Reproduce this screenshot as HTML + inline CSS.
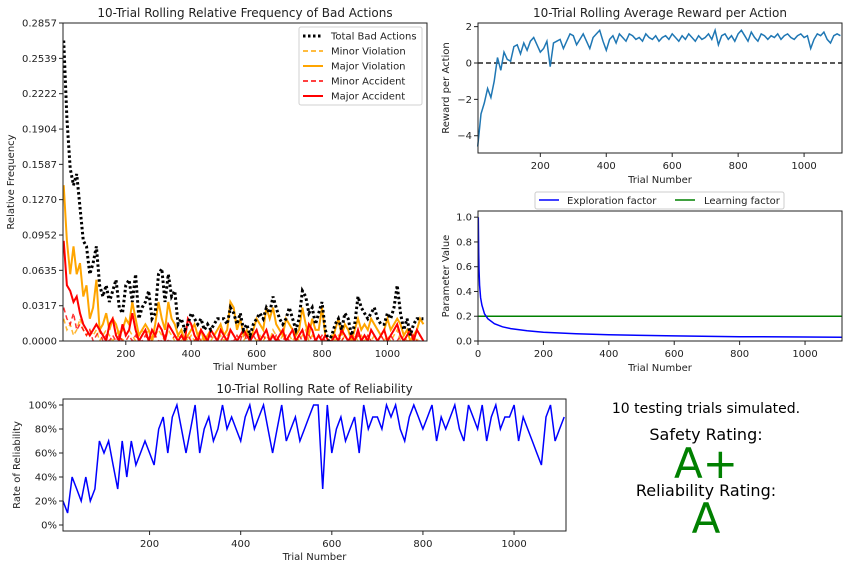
<!DOCTYPE html>
<html><head><meta charset="utf-8"><style>
body{margin:0;background:#fff;}
svg{display:block;font-family:"DejaVu Sans","Liberation Sans",sans-serif;}
</style></head><body>
<svg id="c" width="856" height="568"></svg>
<script>
const trials=[];for(let t=10;t<=1110;t+=10)trials.push(t);
const totalBad=[0.27,0.20,0.155,0.14,0.15,0.12,0.09,0.085,0.06,0.07,0.085,0.05,0.04,0.05,0.035,0.045,0.055,0.03,0.025,0.05,0.055,0.035,0.06,0.02,0.03,0.035,0.045,0.02,0.025,0.06,0.065,0.035,0.06,0.04,0.045,0.015,0.02,0.01,0.015,0.025,0.02,0.015,0.02,0.01,0.015,0.01,0.015,0.02,0.02,0.02,0.015,0.03,0.025,0.015,0.025,0.01,0.015,0.005,0.015,0.02,0.025,0.02,0.03,0.025,0.04,0.03,0.02,0.015,0.02,0.03,0.02,0.01,0.02,0.045,0.04,0.025,0.03,0.015,0.025,0.035,0.01,0.0,0.005,0.015,0.02,0.01,0.025,0.02,0.005,0.015,0.04,0.03,0.025,0.02,0.025,0.03,0.02,0.015,0.015,0.025,0.02,0.03,0.05,0.025,0.01,0.02,0.005,0.015,0.02,0.02,0.02];
const majorViol=[0.14,0.09,0.06,0.085,0.06,0.07,0.04,0.05,0.02,0.03,0.055,0.01,0.015,0.025,0.01,0.02,0.015,0.005,0.01,0.02,0.015,0.035,0.02,0.005,0.01,0.015,0.01,0.0,0.015,0.035,0.02,0.01,0.035,0.02,0.015,0.005,0.01,0.0,0.005,0.01,0.015,0.005,0.01,0.0,0.005,0.01,0.005,0.01,0.015,0.005,0.01,0.035,0.03,0.01,0.02,0.005,0.01,0.0,0.01,0.02,0.015,0.01,0.03,0.02,0.03,0.015,0.01,0.005,0.02,0.015,0.01,0.005,0.01,0.03,0.015,0.005,0.02,0.01,0.01,0.03,0.005,0.0,0.0,0.01,0.02,0.005,0.015,0.01,0.0,0.01,0.02,0.01,0.015,0.01,0.02,0.015,0.01,0.005,0.01,0.02,0.01,0.015,0.02,0.015,0.005,0.01,0.0,0.005,0.01,0.02,0.015];
const majorAcc=[0.09,0.05,0.045,0.035,0.04,0.025,0.015,0.01,0.005,0.01,0.015,0.01,0.005,0.0,0.015,0.02,0.005,0.0,0.015,0.005,0.01,0.025,0.01,0.0,0.005,0.01,0.0,0.01,0.005,0.015,0.01,0.0,0.015,0.01,0.005,0.0,0.005,0.0,0.02,0.015,0.005,0.0,0.01,0.005,0.0,0.01,0.005,0.0,0.01,0.005,0.0,0.01,0.005,0.0,0.005,0.01,0.005,0.0,0.005,0.01,0.0,0.005,0.01,0.0,0.005,0.0,0.005,0.01,0.0,0.005,0.01,0.0,0.005,0.01,0.0,0.015,0.01,0.0,0.005,0.0,0.005,0.0,0.0,0.005,0.0,0.01,0.005,0.0,0.005,0.0,0.01,0.0,0.005,0.0,0.01,0.005,0.0,0.005,0.01,0.0,0.005,0.01,0.015,0.005,0.0,0.005,0.01,0.0,0.01,0.005,0.0];
const minorViol=[0.02,0.01,0.015,0.005,0.01,0.02,0.01,0.005,0.01,0.005,0.01,0.0,0.005,0.01,0.005,0.0,0.005,0.01,0.0,0.005,0.01,0.005,0.0,0.005,0.01,0.005,0.01,0.0,0.005,0.01,0.005,0.0,0.01,0.005,0.0,0.005,0.0,0.005,0.0,0.005,0.0,0.005,0.0,0.005,0.0,0.0,0.005,0.0,0.005,0.0,0.005,0.01,0.005,0.0,0.005,0.0,0.005,0.0,0.005,0.0,0.005,0.0,0.005,0.0,0.01,0.005,0.0,0.005,0.0,0.005,0.0,0.005,0.0,0.005,0.01,0.0,0.005,0.0,0.005,0.0,0.0,0.0,0.005,0.0,0.005,0.0,0.005,0.0,0.0,0.005,0.0,0.005,0.0,0.005,0.0,0.005,0.0,0.005,0.0,0.005,0.0,0.005,0.01,0.0,0.005,0.0,0.0,0.005,0.0,0.005,0.0];
const minorAcc=[0.03,0.02,0.015,0.025,0.01,0.015,0.01,0.005,0.01,0.0,0.005,0.01,0.0,0.005,0.0,0.005,0.0,0.005,0.0,0.0,0.005,0.0,0.005,0.0,0.0,0.005,0.0,0.0,0.005,0.0,0.0,0.005,0.0,0.0,0.005,0.0,0.0,0.0,0.005,0.0,0.0,0.005,0.0,0.0,0.0,0.005,0.0,0.0,0.0,0.005,0.0,0.0,0.0,0.005,0.0,0.01,0.0,0.0,0.005,0.0,0.0,0.005,0.0,0.0,0.0,0.005,0.0,0.0,0.005,0.0,0.0,0.0,0.005,0.0,0.0,0.005,0.0,0.0,0.0,0.005,0.0,0.0,0.0,0.005,0.0,0.0,0.005,0.0,0.0,0.0,0.005,0.0,0.0,0.005,0.0,0.0,0.0,0.005,0.0,0.0,0.005,0.0,0.0,0.005,0.0,0.0,0.0,0.005,0.0,0.0,0.0];
const reward=[-4.6,-2.8,-2.2,-1.4,-1.9,-1.0,0.3,-0.4,0.6,0.2,0.1,0.9,1.0,0.5,1.1,0.7,1.2,1.4,1.0,0.6,0.8,1.2,-0.2,1.1,1.2,1.3,0.8,1.2,1.6,1.5,1.0,1.3,1.6,1.2,0.8,1.4,1.6,1.8,1.2,0.7,1.3,1.5,1.1,1.6,1.4,1.2,1.6,1.5,1.3,1.4,1.2,1.6,1.4,1.3,1.5,1.2,1.4,1.5,1.3,1.6,1.4,1.2,1.5,1.3,1.6,1.4,1.2,1.5,1.3,1.4,1.6,1.3,1.8,1.0,1.5,1.6,1.3,1.5,1.2,1.6,1.8,1.5,1.2,1.7,1.4,1.2,1.6,1.5,1.3,1.5,1.4,1.6,1.3,1.5,1.6,1.4,1.3,1.5,1.6,1.4,1.5,0.8,1.3,1.6,1.5,1.7,1.3,1.1,1.5,1.6,1.5];
const reliability=[20,10,40,30,20,40,20,30,70,60,70,50,30,70,40,70,50,60,70,60,50,80,90,60,90,100,80,60,80,100,60,80,90,70,80,100,80,90,80,70,90,100,80,90,100,80,60,80,100,70,80,90,70,80,90,100,100,30,100,60,80,90,70,80,90,60,100,80,90,90,80,100,90,100,80,70,90,100,90,80,90,100,70,90,80,90,100,80,70,100,90,80,100,70,90,100,80,90,90,100,70,90,80,70,60,50,90,100,70,80,90];
const paramTrials=[1,2,3,5,8,12,20,30,50,75,100,150,200,300,400,600,800,1000,1113];
const exploration=[1.0,0.71,0.58,0.45,0.35,0.29,0.22,0.18,0.14,0.115,0.1,0.082,0.071,0.058,0.05,0.041,0.035,0.032,0.03];
const learning=[0.2,0.2];
const learningTrials=[0,1113];
const badTicks=[0,0.0317,0.0635,0.0952,0.1270,0.1587,0.1904,0.2222,0.2539,0.2857];
const rewardTicks=[-4,-2,0,2];
const paramTicks=[0,0.2,0.4,0.6,0.8,1.0];
const relTicks=[0,20,40,60,80,100];
const xTicks=[200,400,600,800,1000];
const paramXTicks=[0,200,400,600,800,1000];

const svg=document.getElementById('c');
const NS='http://www.w3.org/2000/svg';
function el(tag,attrs,parent){const e=document.createElementNS(NS,tag);for(const k in attrs)e.setAttribute(k,attrs[k]);(parent||svg).appendChild(e);return e;}
function txt(s,x,y,size,anchor,parent,extra){const t=el('text',Object.assign({x:x,y:y,'font-size':size,'text-anchor':anchor||'middle',fill:'#222'},extra||{}),parent);t.textContent=s;return t;}
function lin(d0,d1,r0,r1){return v=>r0+(v-d0)/(d1-d0)*(r1-r0);}
function axesFrame(g,L,T,R,B){el('rect',{x:L,y:T,width:R-L,height:B-T,fill:'none',stroke:'#222','stroke-width':1},g);}
function xAxis(g,ticks,sx,B,fmt){ticks.forEach(v=>{const x=sx(v);el('line',{x1:x,y1:B,x2:x,y2:B+4,stroke:'#222'},g);txt(fmt?fmt(v):String(v),x,B+16,10,'middle',g);});}
function yAxis(g,ticks,sy,L,fmt){ticks.forEach(v=>{const y=sy(v);el('line',{x1:L-4,y1:y,x2:L,y2:y,stroke:'#222'},g);txt(fmt?fmt(v):String(v),L-6,y+3.5,10,'end',g);});}
function path(g,xs,ys,sx,sy,attrs,name){const d=xs.map((t,i)=>(i?'L':'M')+sx(t).toFixed(1)+','+sy(ys[i]).toFixed(1)).join('');const p=el('path',Object.assign({d:d,fill:'none'},attrs),g);return p;}

// Chart 1: bad actions
{const g=el('g',{});
const L=63,T=23,R=427,B=341;const sx=lin(8,1121,L,R),sy=lin(0,0.2857,B,T);
const clip=el('clipPath',{id:'c1'},g);el('rect',{x:L,y:T,width:R-L,height:B-T},clip);
const pg=el('g',{'clip-path':'url(#c1)'},g);
path(pg,trials,minorViol,sx,sy,{stroke:'#ffa500','stroke-width':1.5,'stroke-dasharray':'5,3',opacity:0.8},'minor-violation-line');
path(pg,trials,majorViol,sx,sy,{stroke:'#ffa500','stroke-width':2},'major-violation-line');
path(pg,trials,minorAcc,sx,sy,{stroke:'#ff0000','stroke-width':1.5,'stroke-dasharray':'5,3',opacity:0.8},'minor-accident-line');
path(pg,trials,majorAcc,sx,sy,{stroke:'#ff0000','stroke-width':2},'major-accident-line');
path(pg,trials,totalBad,sx,sy,{stroke:'#000','stroke-width':3,'stroke-dasharray':'2.5,2.5'},'total-bad-actions-line');
axesFrame(g,L,T,R,B);xAxis(g,xTicks,sx,B);yAxis(g,badTicks,sy,L,v=>v.toFixed(4));
const t=txt('10-Trial Rolling Relative Frequency of Bad Actions',(L+R)/2,17,12,'middle',g);
txt('Trial Number',(L+R)/2,370,10,'middle',g);
txt('Relative Frequency',14,(T+B)/2,10,'middle',g,{transform:'rotate(-90 14 '+((T+B)/2)+')'});
const lg=el('g',{},g);
el('rect',{x:299,y:27,width:123,height:78,fill:'#fff',stroke:'#ccc',rx:2,opacity:0.9},lg);
const items=[['Total Bad Actions','#000','2.5,2.5',3],['Minor Violation','#ffa500','5,3',1.5],['Major Violation','#ffa500','',2],['Minor Accident','#ff0000','5,3',1.5],['Major Accident','#ff0000','',2]];
items.forEach((it,i)=>{const y=36+i*15;const a={x1:303,y1:y,x2:323,y2:y,stroke:it[1],'stroke-width':it[3]};if(it[2])a['stroke-dasharray']=it[2];el('line',a,lg);txt(it[0],331,y+3.5,10,'start',lg);});}

// Chart 2: reward
{const g=el('g',{});
const L=478,T=23,R=842,B=153;const sx=lin(11,1115,L,R),sy=lin(-4.95,2.2,B,T);
el('line',{x1:L,y1:sy(0),x2:R,y2:sy(0),stroke:'#222','stroke-width':1.5,'stroke-dasharray':'5,3'},g);
path(g,trials,reward,sx,sy,{stroke:'#1f77b4','stroke-width':1.5},'reward-line');
axesFrame(g,L,T,R,B);xAxis(g,xTicks,sx,B);yAxis(g,rewardTicks,sy,L,v=>v<0?'\u2212'+(-v):String(v));
txt('10-Trial Rolling Average Reward per Action',(L+R)/2,17,12,'middle',g);
txt('Trial Number',(L+R)/2,183,10,'middle',g);
txt('Reward per Action',449,(T+B)/2,10,'middle',g,{transform:'rotate(-90 449 '+((T+B)/2)+')'});}

// Chart 3: parameters
{const g=el('g',{});
const L=478,T=211,R=842,B=341;const sx=lin(0,1113,L,R),sy=lin(0,1.05,B,T);
path(g,learningTrials,learning,sx,sy,{stroke:'#008000','stroke-width':1.5},'learning-factor-line');
path(g,paramTrials,exploration,sx,sy,{stroke:'#0000ff','stroke-width':1.5},'exploration-factor-line');
axesFrame(g,L,T,R,B);xAxis(g,paramXTicks,sx,B);yAxis(g,paramTicks,sy,L,v=>v.toFixed(1));
txt('Trial Number',(L+R)/2,371,10,'middle',g);
txt('Parameter Value',449,(T+B)/2,10,'middle',g,{transform:'rotate(-90 449 '+((T+B)/2)+')'});
const lg=el('g',{},g);
el('rect',{x:535,y:192,width:249,height:17,fill:'#fff',stroke:'#ccc',rx:2},lg);
el('line',{x1:539,y1:200,x2:559,y2:200,stroke:'#0000ff','stroke-width':1.5},lg);txt('Exploration factor',567,204,10,'start',lg);
el('line',{x1:675,y1:200,x2:695,y2:200,stroke:'#008000','stroke-width':1.5},lg);txt('Learning factor',704,204,10,'start',lg);}

// Chart 4: reliability
{const g=el('g',{});
const L=63,T=399,R=566,B=531;const sx=lin(10,1114,L,R),sy=lin(-5,105,B,T);
path(g,trials,reliability,sx,sy,{stroke:'#0000ff','stroke-width':1.5},'reliability-line');
axesFrame(g,L,T,R,B);xAxis(g,xTicks,sx,B);yAxis(g,relTicks,sy,L,v=>v+'%');
txt('10-Trial Rolling Rate of Reliability',(L+R)/2,393,12,'middle',g);
txt('Trial Number',(L+R)/2,560,10,'middle',g);
txt('Rate of Reliability',20,(T+B)/2,10,'middle',g,{transform:'rotate(-90 20 '+((T+B)/2)+')'});}

// Ratings
{const g=el('g',{});
txt('10 testing trials simulated.',706,413,14,'middle',g,{fill:'#000'});
txt('Safety Rating:',706,440,16,'middle',g,{fill:'#000'});
const a=txt('A+',706,478,42,'middle',g,{fill:'#008000'});
txt('Reliability Rating:',706,496,16,'middle',g,{fill:'#000'});
const b=txt('A',706,533,42,'middle',g,{fill:'#008000'});}
</script>
</body></html>
